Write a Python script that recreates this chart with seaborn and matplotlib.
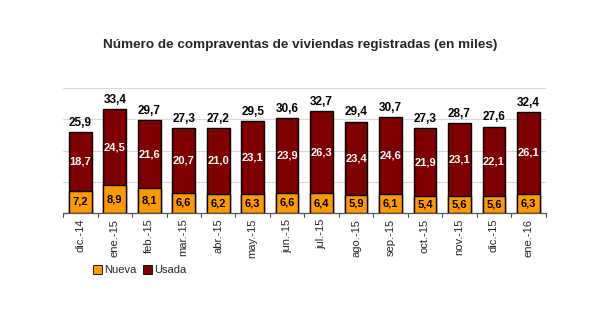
import matplotlib
matplotlib.use("Agg")
import matplotlib.pyplot as plt
import seaborn as sns
import pandas as pd
from matplotlib.patches import Patch

categories = ["dic.-14", "ene.-15", "feb.-15", "mar.-15", "abr.-15", "may.-15", "jun.-15",
              "jul.-15", "ago.-15", "sep.-15", "oct.-15", "nov.-15", "dic.-15", "ene.-16"]
nueva = [7.2, 8.9, 8.1, 6.6, 6.2, 6.3, 6.6, 6.4, 5.9, 6.1, 5.4, 5.6, 5.6, 6.3]
usada = [18.7, 24.5, 21.6, 20.7, 21.0, 23.1, 23.9, 26.3, 23.4, 24.6, 21.9, 23.1, 22.1, 26.1]
totals = [25.9, 33.4, 29.7, 27.3, 27.2, 29.5, 30.6, 32.7, 29.4, 30.7, 27.3, 28.7, 27.6, 32.4]

df = pd.DataFrame({"cat": categories, "nueva": nueva, "usada": usada, "total": totals})
df["stack"] = df["nueva"] + df["usada"]

c_nueva = "#FF9900"
c_usada = "#7F0000"

sns.set_style("white")
plt.rcParams["font.family"] = ["Liberation Sans", "DejaVu Sans"]

fig = plt.figure(figsize=(6.13, 3.29), dpi=100)
ax = fig.add_axes([0.103, 0.352, 0.787, 0.38])

sns.barplot(data=df, x="cat", y="stack", color=c_usada, width=0.66, ax=ax,
            edgecolor="black", linewidth=1.0, saturation=1)
sns.barplot(data=df, x="cat", y="nueva", color=c_nueva, width=0.66, ax=ax,
            edgecolor="black", linewidth=1.0, saturation=1)

ax.set_ylim(0, 40)
ax.set_xlim(-0.5, len(categories) - 0.5)
ax.set_yticks([10, 20, 30, 40])
ax.yaxis.grid(True, color="#d9d9d9", linewidth=0.8)
ax.set_axisbelow(True)
ax.set_yticklabels([])
ax.tick_params(axis="y", length=0)
ax.set_xlabel("")
ax.set_ylabel("")
for s in ["left", "right", "top"]:
    ax.spines[s].set_visible(False)
ax.spines["bottom"].set_color("#555555")
ax.spines["bottom"].set_linewidth(0.9)

ax.set_xticks(range(len(categories)))
ax.set_xticklabels(categories, rotation=90, fontsize=8)
ax.tick_params(axis="x", length=0, pad=4)
# separator ticks between categories
for i in range(len(categories) + 1):
    ax.plot([i - 0.5, i - 0.5], [0, -1.2], color="#555555", lw=0.8, clip_on=False)

for i in range(len(categories)):
    ax.text(i, nueva[i] / 2, f"{nueva[i]:.1f}".replace(".", ","), ha="center", va="center",
            fontsize=8, fontweight="bold", color="black")
    ax.text(i, nueva[i] + usada[i] / 2, f"{usada[i]:.1f}".replace(".", ","), ha="center",
            va="center", fontsize=8, fontweight="bold", color="white")
    ax.text(i, df["stack"][i] + 1.0, f"{totals[i]:.1f}".replace(".", ","), ha="center",
            va="bottom", fontsize=8.5, fontweight="bold", color="black")

fig.text(0.49, 0.862, "Número de compraventas de viviendas registradas (en miles)",
         ha="center", va="center", fontsize=9.7, fontweight="bold")

handles = [Patch(facecolor=c_nueva, edgecolor="black", linewidth=0.6, label="Nueva"),
           Patch(facecolor=c_usada, edgecolor="black", linewidth=0.6, label="Usada")]
fig.legend(handles=handles, loc="center left", bbox_to_anchor=(0.135, 0.178), ncol=2,
           frameon=False, fontsize=8, handlelength=0.8, handleheight=0.8,
           handletextpad=0.2, columnspacing=0.6)

fig.savefig("out.png", dpi=100, facecolor="white")
